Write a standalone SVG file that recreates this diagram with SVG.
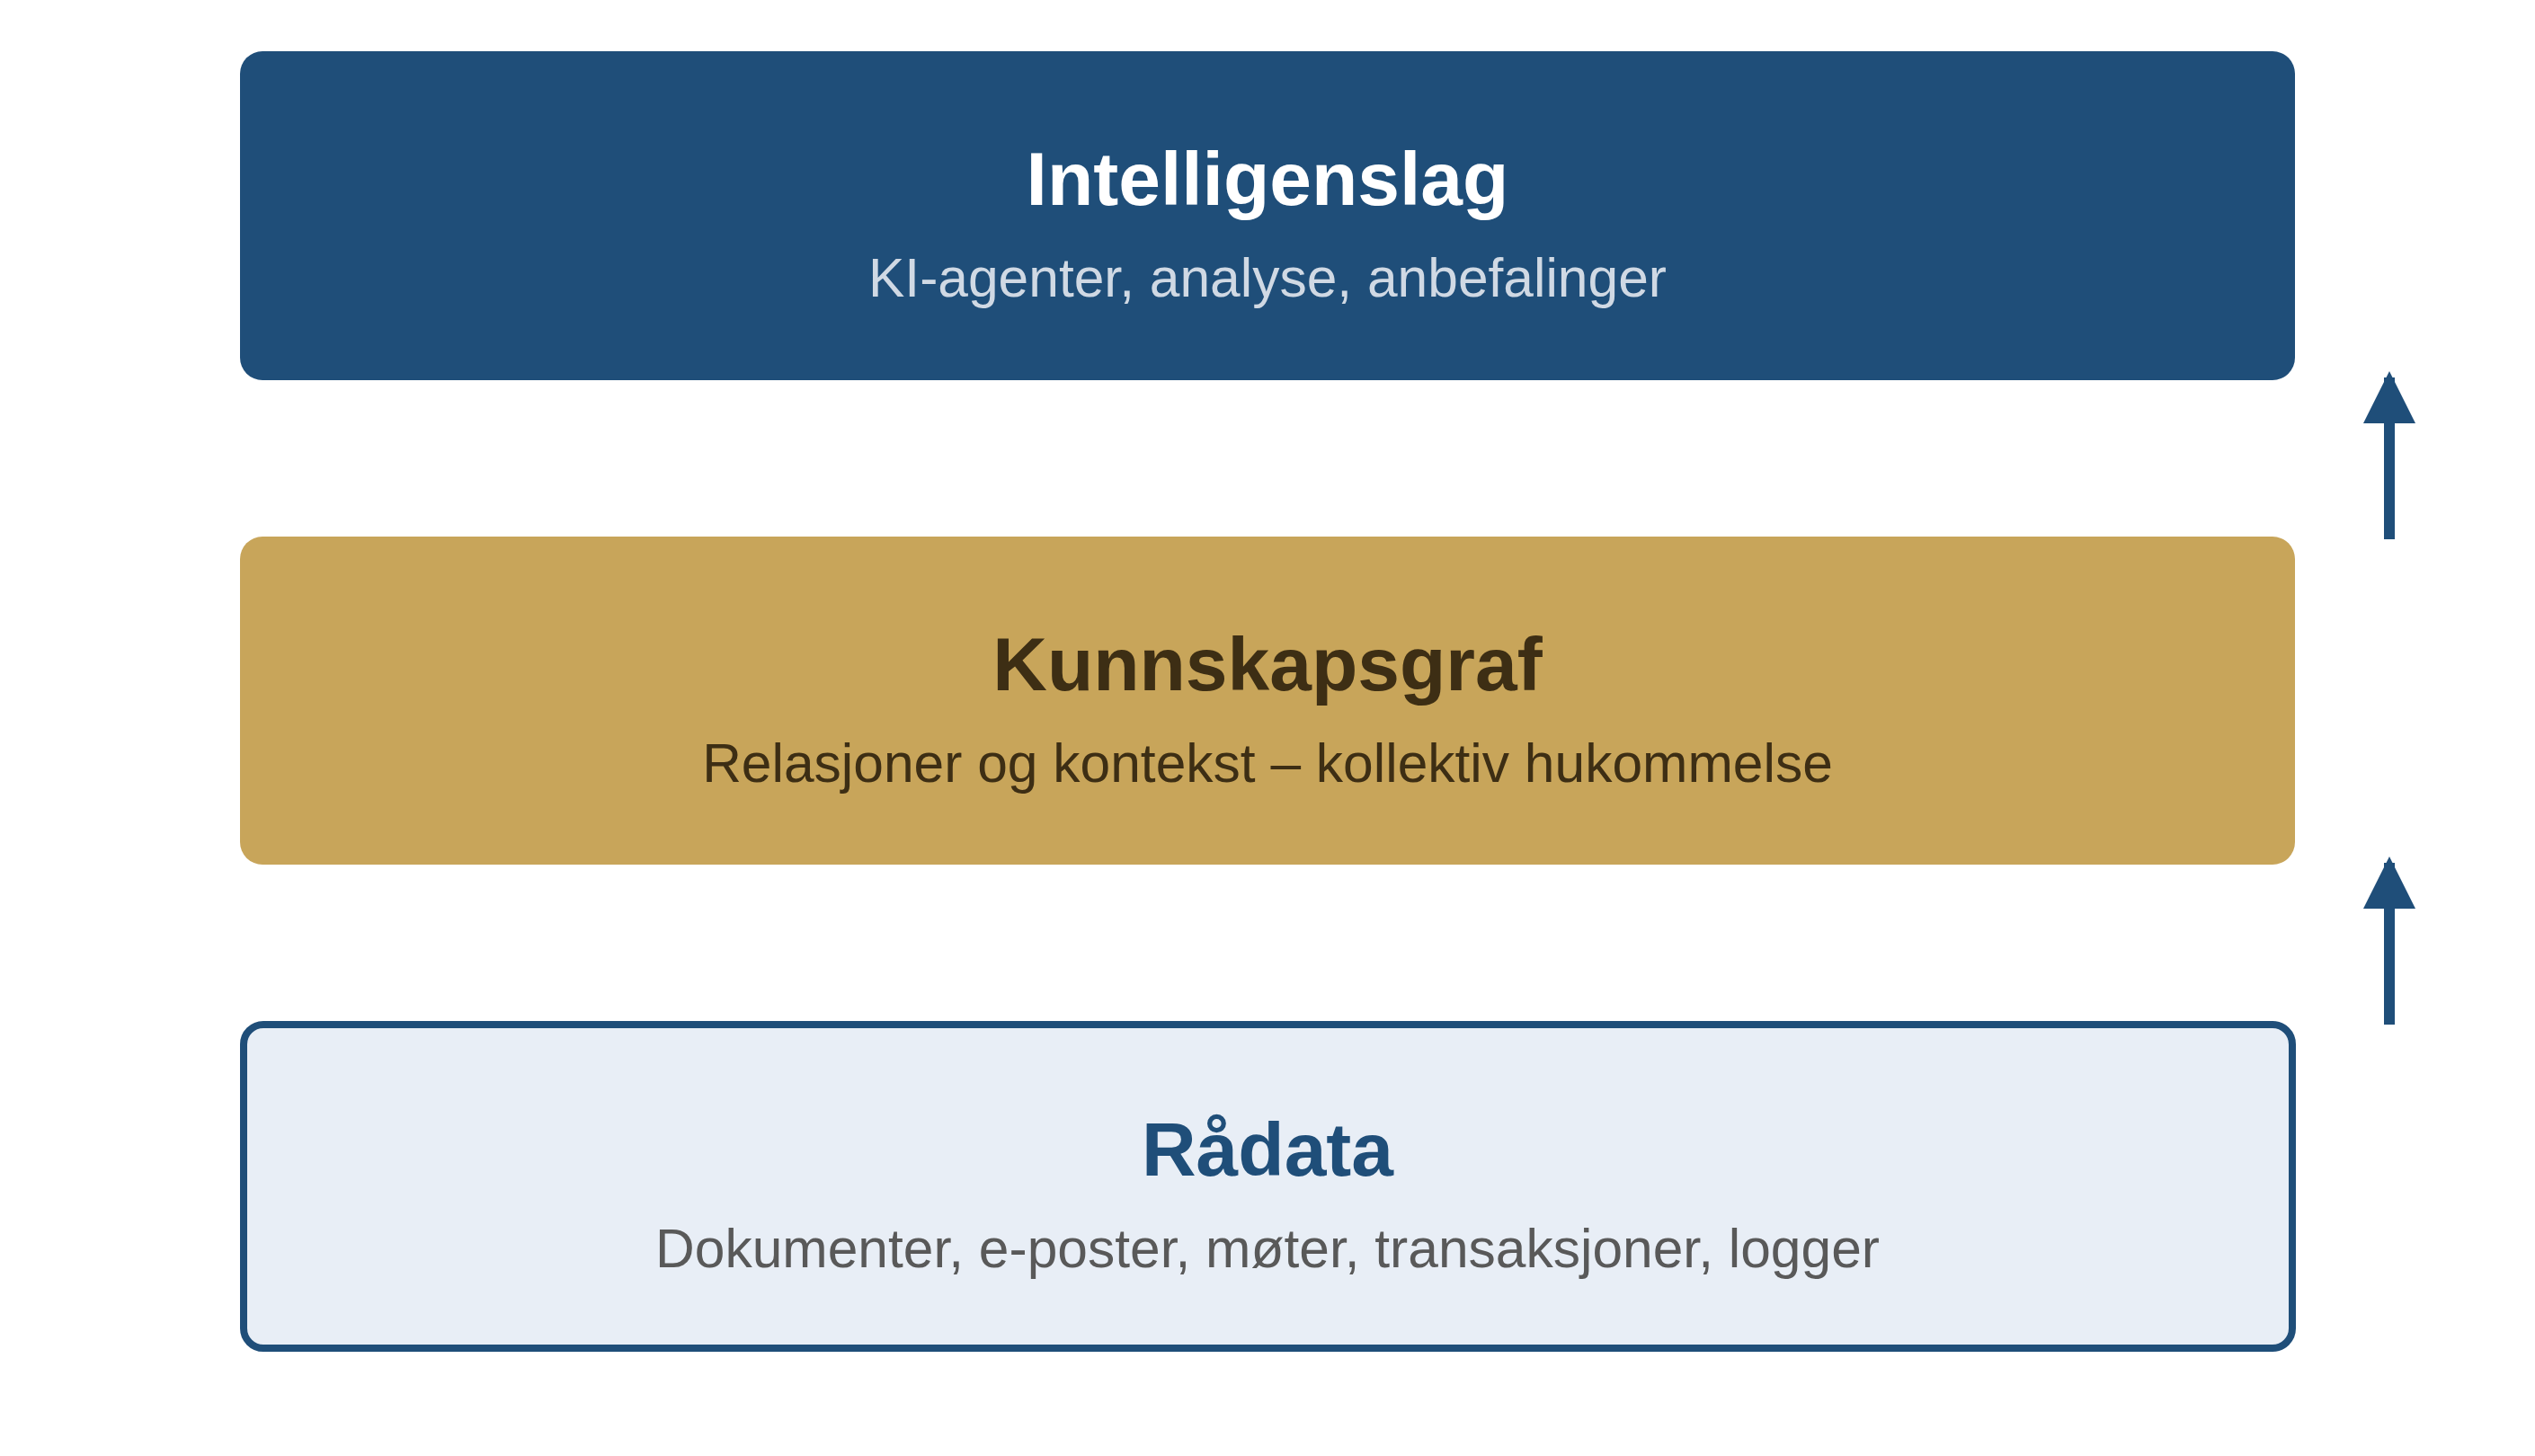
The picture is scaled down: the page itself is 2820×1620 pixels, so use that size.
<svg xmlns="http://www.w3.org/2000/svg" width="2820" height="1620" viewBox="0 0 2820 1620">
  <style>
    .title { font-family: "Liberation Sans", Arial, sans-serif; font-weight: bold; font-size: 84px; text-anchor: middle; }
    .sub { font-family: "Liberation Sans", Arial, sans-serif; font-size: 60.5px; text-anchor: middle; }
    .conn { stroke: #1F4E79; stroke-width: 12; fill: none; }
  </style>
  <defs>
    <marker id="arrow" markerUnits="userSpaceOnUse" markerWidth="58" markerHeight="58" viewBox="0 0 58 58" refX="51" refY="29" orient="auto">
      <path d="M0,0 L58,29 L0,58 z" fill="#1F4E79"/>
    </marker>
  </defs>
  <rect x="0" y="0" width="2820" height="1620" fill="#FFFFFF"/>

  <g id="intelligenslag">
    <rect x="267" y="57" width="2286" height="366" rx="25" ry="25" fill="#1F4E79"/>
    <text class="title" x="1410" y="228" fill="#FFFFFF">Intelligenslag</text>
    <text class="sub" x="1410" y="330" fill="#D0D9E4">KI-agenter, analyse, anbefalinger</text>
  </g>

  <g id="kunnskapsgraf">
    <rect x="267" y="597" width="2286" height="365" rx="25" ry="25" fill="#C8A55A"/>
    <text class="title" x="1410" y="768" fill="#3D2E14">Kunnskapsgraf</text>
    <text class="sub" x="1410" y="870" fill="#3D2E14">Relasjoner og kontekst – kollektiv hukommelse</text>
  </g>

  <g id="radata">
    <rect x="271" y="1140" width="2279" height="360" rx="22" ry="22" fill="#E8EEF6" stroke="#1F4E79" stroke-width="8"/>
    <text class="title" x="1410" y="1308" fill="#1F4E79">Rådata</text>
    <text class="sub" x="1410" y="1410" fill="#595959">Dokumenter, e-poster, møter, transaksjoner, logger</text>
  </g>

  <g id="connectors">
    <line class="conn" x1="2658" y1="600" x2="2658" y2="420" marker-end="url(#arrow)"/>
    <line class="conn" x1="2658" y1="1140" x2="2658" y2="960" marker-end="url(#arrow)"/>
  </g>
</svg>
